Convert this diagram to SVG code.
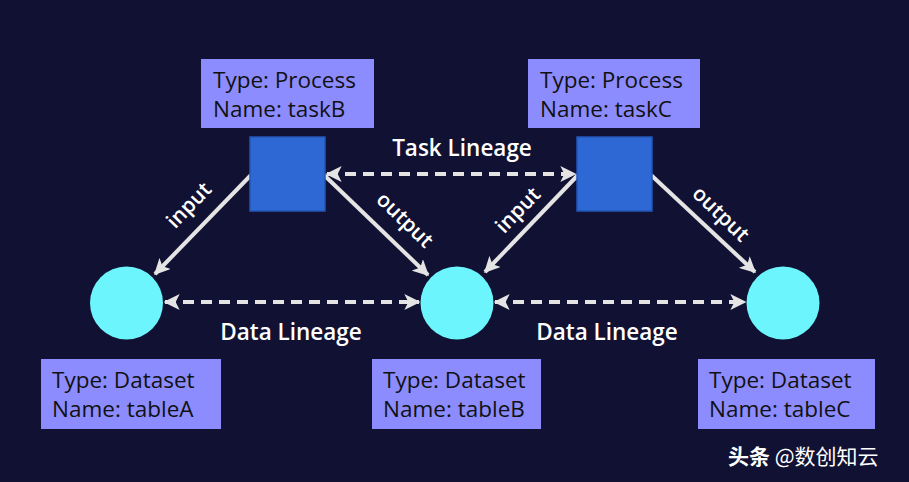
<svg xmlns="http://www.w3.org/2000/svg" width="909" height="482" viewBox="0 0 909 482">
<defs>
<style>
.lbl{fill:#8c8cff}
.lt{font-family:"Open Sans","Liberation Sans",Arial,sans-serif;font-size:22.5px;font-weight:500;fill:#111111}
.task{fill:#2e68d4;stroke:#2356b6;stroke-width:1.5}
.ds{fill:#6cf5fd}
.ln{stroke:#e4e4e4;stroke-width:4;fill:none}
.dash{stroke-dasharray:11 7}
.et{font-family:"Open Sans","Liberation Sans",Arial,sans-serif;font-size:21px;font-weight:600;fill:#ffffff}
.ct{font-family:"Open Sans","Liberation Sans",Arial,sans-serif;font-size:22.5px;font-weight:600;fill:#ffffff}
</style>
<marker id="ah" viewBox="0 0 12 12" refX="11" refY="6" markerWidth="4" markerHeight="4" markerUnits="strokeWidth" orient="auto-start-reverse">
<path d="M0,0 L12,6 L0,12 L3,6 Z" fill="#e4e4e4"/>
</marker>
</defs>
<rect width="909" height="482" fill="#111133"/>

<g id="connectors">
<line class="ln" x1="251" y1="175" x2="155" y2="274" marker-end="url(#ah)"/>
<line class="ln" x1="324" y1="175" x2="428" y2="275" marker-end="url(#ah)"/>
<line class="ln" x1="578" y1="175" x2="485" y2="272" marker-end="url(#ah)"/>
<line class="ln" x1="651" y1="175" x2="755" y2="272" marker-end="url(#ah)"/>
<line class="ln dash" x1="327" y1="174" x2="575" y2="174" marker-start="url(#ah)" marker-end="url(#ah)"/>
<line class="ln dash" x1="165" y1="302" x2="419" y2="302" marker-start="url(#ah)" marker-end="url(#ah)"/>
<line class="ln dash" x1="495" y1="302" x2="745" y2="302" marker-start="url(#ah)" marker-end="url(#ah)"/>
<text class="ct" x="462" y="156" text-anchor="middle">Task Lineage</text>
<text class="ct" x="291" y="340" text-anchor="middle">Data Lineage</text>
<text class="ct" x="607" y="340" text-anchor="middle">Data Lineage</text>
<text class="et" text-anchor="middle" transform="translate(194,210) rotate(-46)">input</text>
<text class="et" text-anchor="middle" transform="translate(400,225) rotate(44)">output</text>
<text class="et" text-anchor="middle" transform="translate(523,215) rotate(-46)">input</text>
<text class="et" text-anchor="middle" transform="translate(716,219) rotate(44)">output</text>
</g>

<g id="taskB">
<rect class="lbl" x="201" y="59" width="173" height="69"/>
<text class="lt" x="213" y="88">Type: Process</text>
<text class="lt" x="213" y="117">Name: taskB</text>
<rect class="task" x="250" y="137" width="75" height="74"/>
</g>

<g id="taskC">
<rect class="lbl" x="528" y="59" width="172" height="69"/>
<text class="lt" x="540" y="88">Type: Process</text>
<text class="lt" x="540" y="117">Name: taskC</text>
<rect class="task" x="577" y="137" width="75" height="74"/>
</g>

<g id="tableA">
<circle class="ds" cx="126.5" cy="303" r="36.5"/>
<rect class="lbl" x="41" y="359" width="180" height="70"/>
<text class="lt" x="52" y="388">Type: Dataset</text>
<text class="lt" x="52" y="417">Name: tableA</text>
</g>

<g id="tableB">
<circle class="ds" cx="457" cy="303" r="36.5"/>
<rect class="lbl" x="372" y="359" width="169" height="70"/>
<text class="lt" x="383" y="388">Type: Dataset</text>
<text class="lt" x="383" y="417">Name: tableB</text>
</g>

<g id="tableC">
<circle class="ds" cx="783" cy="303" r="36.5"/>
<rect class="lbl" x="698" y="359" width="177" height="70"/>
<text class="lt" x="709" y="388">Type: Dataset</text>
<text class="lt" x="709" y="417">Name: tableC</text>
</g>

<text x="728" y="464" font-family="'Noto Sans CJK SC',sans-serif" font-size="21" fill="#ffffff"><tspan font-weight="bold">头条</tspan> @数创知云</text>
</svg>
